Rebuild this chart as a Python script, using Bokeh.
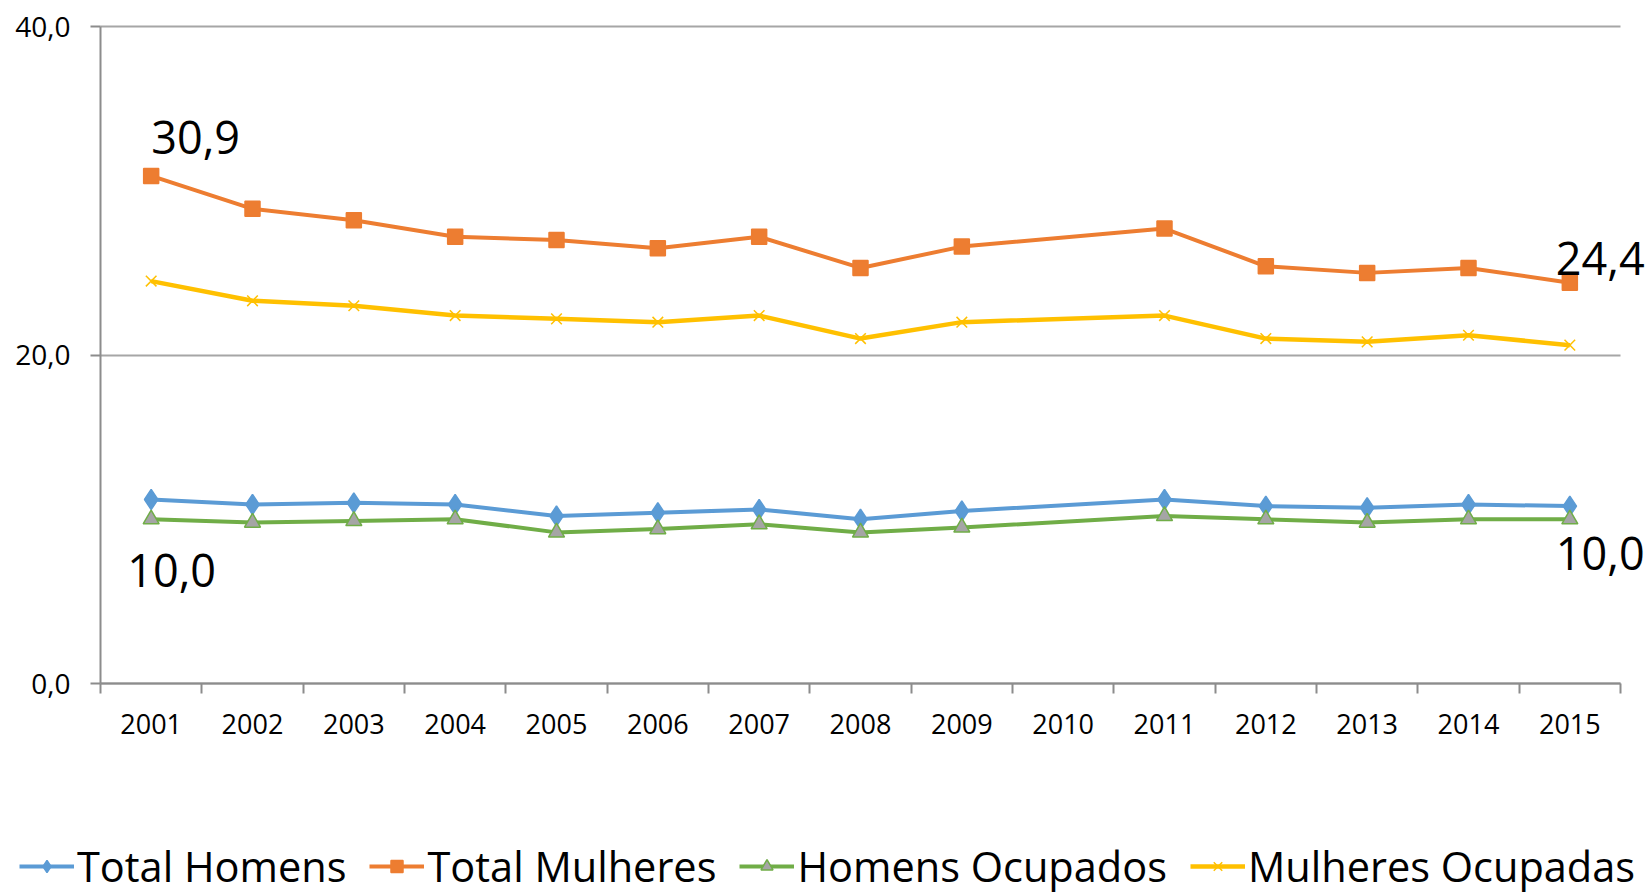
from bokeh.plotting import figure
from bokeh.models import FixedTicker, Legend, LegendItem, ColumnDataSource, Label
from bokeh.embed import file_html
from bokeh.resources import INLINE

years = ["2001", "2002", "2003", "2004", "2005", "2006", "2007", "2008",
         "2009", "2010", "2011", "2012", "2013", "2014", "2015"]

total_homens = [11.2, 10.9, 11.0, 10.9, 10.2, 10.4, 10.6, 10.0, 10.5, None,
                11.2, 10.8, 10.7, 10.9, 10.8]
total_mulheres = [30.9, 28.9, 28.2, 27.2, 27.0, 26.5, 27.2, 25.3, 26.6, None,
                  27.7, 25.4, 25.0, 25.3, 24.4]
homens_ocupados = [10.0, 9.8, 9.9, 10.0, 9.2, 9.4, 9.7, 9.2, 9.5, None,
                   10.2, 10.0, 9.8, 10.0, 10.0]
mulheres_ocupadas = [24.5, 23.3, 23.0, 22.4, 22.2, 22.0, 22.4, 21.0, 22.0, None,
                     22.4, 21.0, 20.8, 21.2, 20.6]

series_names = ["Total Homens", "Total Mulheres", "Homens Ocupados", "Mulheres Ocupadas"]

y_ticks = [0, 20, 40]
y_tick_labels = ["0,0", "20,0", "40,0"]

# data labels: (series values, year index)
label_points = [(total_mulheres, 0), (total_mulheres, 14),
                (homens_ocupados, 0), (homens_ocupados, 14)]

FONT = "Open Sans"
W, H = 1646, 895

# plot area in pixels: x from 100 to 1620, y from 26 (top, 40) to 683 (0)
n = len(years)
PX_X = (1620 - 100) / n
PX_Y = (683 - 26) / 40.0
x_start = -100 / PX_X
x_end = n + (W - 1620) / PX_X
y_end = 40 + 26 / PX_Y
y_start = -(H - 683) / PX_Y

p = figure(width=W, height=H, output_backend="svg", toolbar_location=None,
           x_range=(x_start, x_end), y_range=(y_start, y_end),
           min_border_left=0, min_border_right=0, min_border_top=0,
           min_border_bottom=0)
p.outline_line_color = None
p.background_fill_color = "white"
p.border_fill_color = "white"

centers = [i + 0.5 for i in range(n)]
bounds = [float(i) for i in range(n + 1)]

# x axis
p.xaxis.fixed_location = 0
p.xaxis.bounds = (0, n)
p.xaxis.ticker = FixedTicker(ticks=centers, minor_ticks=bounds)
p.xaxis.major_label_overrides = {c: y for c, y in zip(centers, years)}
p.xaxis.major_tick_line_color = None
p.xaxis.minor_tick_in = 0
p.xaxis.minor_tick_out = 10
p.xaxis.minor_tick_line_color = "#8c8c8c"
p.xaxis.minor_tick_line_width = 2
p.xaxis.axis_line_color = "#8c8c8c"
p.xaxis.axis_line_width = 2
p.xaxis.major_label_text_font = FONT
p.xaxis.major_label_text_font_size = "27px"
p.xaxis.major_label_text_color = "black"
p.xaxis.major_label_standoff = 20

# y axis
p.yaxis.fixed_location = 0
p.yaxis.bounds = (0, 40)
p.yaxis.ticker = FixedTicker(ticks=y_ticks)
p.yaxis.major_label_overrides = {t: l for t, l in zip(y_ticks, y_tick_labels)}
p.yaxis.minor_tick_line_color = None
p.yaxis.major_tick_in = 0
p.yaxis.major_tick_out = 10
p.yaxis.major_tick_line_color = "#8c8c8c"
p.yaxis.major_tick_line_width = 2
p.yaxis.axis_line_color = "#8c8c8c"
p.yaxis.axis_line_width = 2
p.yaxis.major_label_text_font = FONT
p.yaxis.major_label_text_font_size = "28px"
p.yaxis.major_label_text_color = "black"
p.yaxis.major_label_standoff = 20

p.xgrid.grid_line_color = None
p.ygrid.grid_line_color = "#a6a6a6"
p.ygrid.grid_line_width = 2
p.ygrid.cross_bounds = (0, n)

styles = [
    dict(color="#5B9BD5", marker="diamond", size=20, fill="#5B9BD5", line="#5B9BD5"),
    dict(color="#ED7D31", marker="square", size=15, fill="#ED7D31", line="#ED7D31"),
    dict(color="#70AD47", marker="triangle", size=16, fill="#A5A5A5", line="#70AD47"),
    dict(color="#FFC000", marker="x", size=15, fill="#FFC000", line="#FFC000"),
]
all_series = [total_homens, total_mulheres, homens_ocupados, mulheres_ocupadas]

items = []
for name, vals, st in zip(series_names, all_series, styles):
    xs = [c for c, v in zip(centers, vals) if v is not None]
    ys = [v for v in vals if v is not None]
    src = ColumnDataSource(dict(x=xs, y=ys))
    lw = 4.5 if st["marker"] == "x" else 4
    r1 = p.line("x", "y", source=src, line_color=st["color"], line_width=lw)
    r2 = p.scatter("x", "y", source=src, marker=st["marker"], size=st["size"],
                   fill_color=st["fill"], line_color=st["line"], line_width=1.5)
    items.append(LegendItem(label=name, renderers=[r1, r2]))

# data labels (Label annotations, positioned from the data values)
offsets = [(0, 38), (-14, 24), (-24, -51), (-14, -34)]
for (vals, idx), (dx, dy) in zip(label_points, offsets):
    v = vals[idx]
    txt = f"{v:.1f}".replace(".", ",")
    p.add_layout(Label(x=centers[idx], y=v, text=txt, x_offset=dx, y_offset=dy,
                       text_font=FONT, text_font_size="45px", text_color="black",
                       text_align="left", text_baseline="alphabetic"))

legend = Legend(items=items, orientation="horizontal", location=(19, 1),
                label_text_font=FONT, label_text_font_size="41.5px",
                label_text_color="black", glyph_width=55, glyph_height=30,
                label_standoff=3, spacing=23, padding=0, margin=0,
                border_line_color=None, background_fill_alpha=0)
p.add_layout(legend, "center")

open("out.html", "w").write(file_html(p, INLINE))
